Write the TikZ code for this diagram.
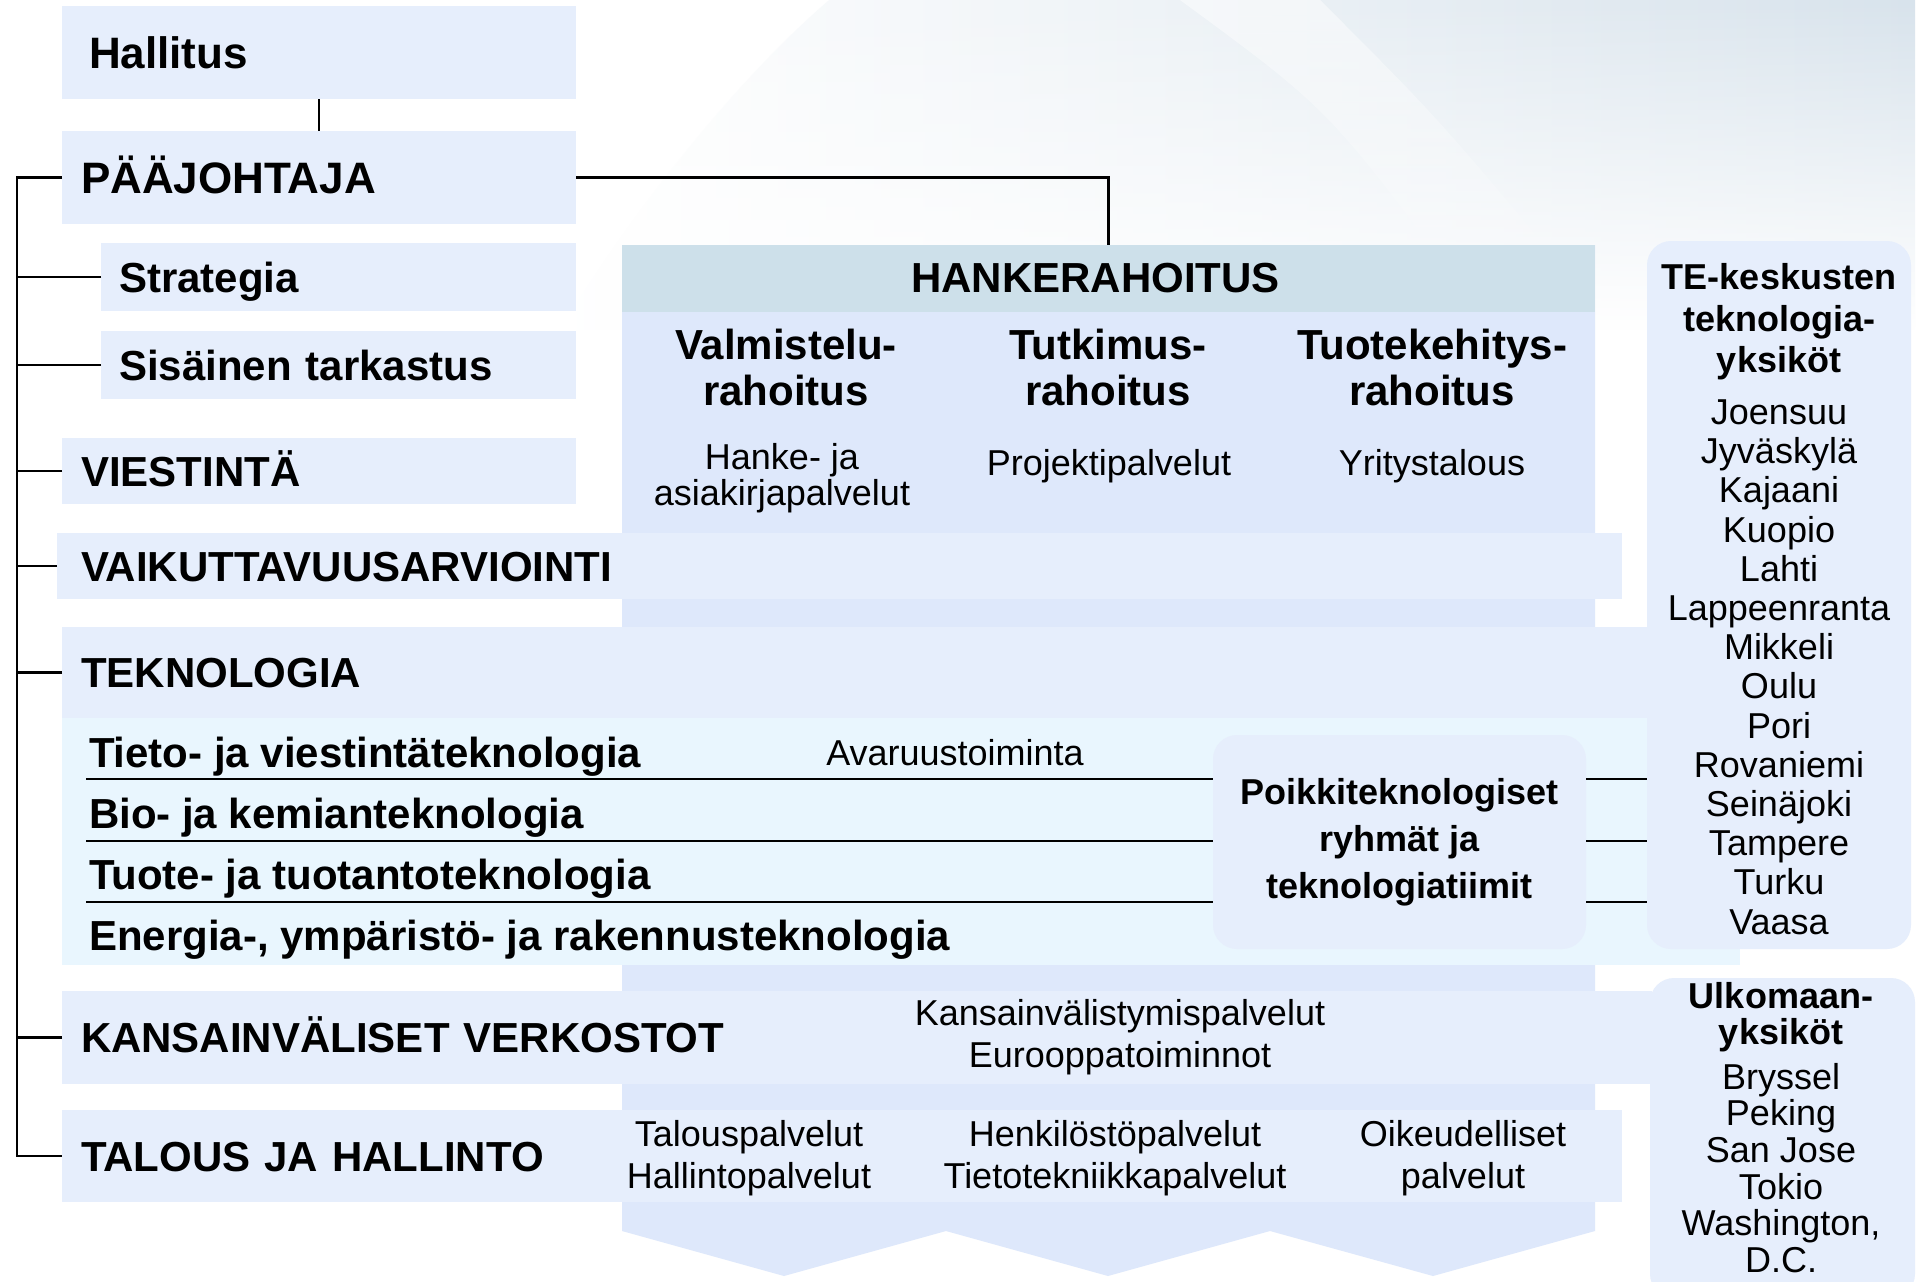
\documentclass[tikz,border=0pt]{standalone}
\usepackage{fontspec}
\setmainfont{Liberation Sans}
\usetikzlibrary{calc,positioning,fadings}

\definecolor{rowblue}{HTML}{E6EEFC}
\definecolor{colblue}{HTML}{DEE8FB}
\definecolor{headblue}{HTML}{CDE0EA}
\definecolor{teknocyan}{HTML}{E9F6FE}
\definecolor{swooshgray}{HTML}{D8E3EC}

\newcommand{\orgtop}{\fontsize{22}{26}\selectfont\bfseries}
\newcommand{\orghead}{\fontsize{21}{23}\selectfont\bfseries}
\newcommand{\orgsub}{\fontsize{18}{20.8}\selectfont}

\begin{document}
\begin{tikzpicture}[inner sep=0pt, outer sep=0pt, x=0.5pt, y=-0.5pt,
    rowbox/.style={fill=rowblue, anchor=north west, align=left, font=\orghead,
      text height=15pt, text depth=0pt, inner xsep=9.5pt},
    unitbox/.style={fill=rowblue, anchor=north west, rounded corners=12pt},
    orgline/.style={line width=1.4pt, black},
    colhead/.style={align=center, font=\orghead},
    coltext/.style={align=center, font=\orgsub}]

    \useasboundingbox[fill=white] (0,0) rectangle (1917,1281);

    % background swoosh
    \shade[left color=white, right color=swooshgray, path fading=south]
      (560,330) .. controls (660,170) and (760,60) .. (830,0) -- (1917,0) -- (1917,330) -- cycle;
    \fill[white, opacity=0.5, path fading=south]
      (1180,0) .. controls (1330,110) .. (1470,300) -- (1590,300) .. controls (1440,120) .. (1320,0) -- cycle;

    % hankerahoitus column
    \fill[colblue] (622,245) -- (1595,245) -- (1595,1231) -- (1433,1276) -- (1270,1231)
      -- (1108,1276) -- (946,1231) -- (784,1276) -- (622,1231) -- cycle;
    \node[anchor=north west, fill=headblue, minimum width=486.5pt, minimum height=33.5pt,
      label={[font=\orghead, xshift=-6.5pt]center:HANKERAHOITUS}] (header) at (622,245) {};

    \node[colhead] (valmistelu) at (786,367) {Valmistelu-\\rahoitus};
    \node[colhead] (tutkimus) at (1108,367) {Tutkimus-\\rahoitus};
    \node[colhead] (tuotekehitys) at (1432,367) {Tuotekehitys-\\rahoitus};
    \node[coltext, font=\fontsize{18}{17.7}\selectfont] (hanke_pal) at (782,478) {Hanke- ja\\asiakirjapalvelut};
    \node[coltext] (projekti_pal) at (1109,466) {Projektipalvelut};
    \node[coltext] (yritys) at (1432,466) {Yritystalous};

    % left side boxes
    \node[rowbox, font=\orgtop, text height=15.75pt, inner xsep=13.5pt, text width=230pt,
      minimum height=46.5pt] (hallitus) at (62,6) {Hallitus};
    \node[rowbox, font=\orgtop, text height=15.75pt, text width=238pt,
      minimum height=46.5pt] (paajohtaja) at (62,131) {PÄÄJOHTAJA};
    \node[rowbox, inner xsep=9pt, text width=219.5pt, minimum height=34pt] (strategia)
      at (101,243) {Strategia};
    \node[rowbox, inner xsep=9pt, text width=219.5pt, minimum height=34pt] (sisainen)
      at (101,331) {Sisäinen tarkastus};
    \node[rowbox, text width=238pt, minimum height=33pt] (viestinta) at (62,438) {VIESTINTÄ};
    \node[rowbox, inner xsep=12pt, text width=758.5pt, minimum height=33pt] (vaikutt)
      at (57,533) {VAIKUTTAVUUSARVIOINTI};

    % teknologia
    \node[rowbox, text width=820pt, minimum height=45.5pt] (teknologia) at (62,627) {TEKNOLOGIA};
    \node[anchor=north west, fill=teknocyan, minimum width=839pt, minimum height=123.5pt]
      (tekno_ala) at (62,718) {};

    \node[anchor=west, font=\orghead, text height=15pt, text depth=0pt] (tieto) at (89,752)
      {Tieto- ja viestintäteknologia};
    \node[anchor=west, font=\orghead, text height=15pt, text depth=0pt] (bio) at (89,813)
      {Bio- ja kemianteknologia};
    \node[anchor=west, font=\orghead, text height=15pt, text depth=0pt] (tuote) at (89,874)
      {Tuote- ja tuotantoteknologia};
    \node[anchor=west, font=\orghead, text height=15pt, text depth=0pt] (energia) at (89,935)
      {Energia-, ympäristö- ja rakennusteknologia};
    \node[coltext] (avaruus) at (955,753) {Avaruustoiminta};

    \node[unitbox, minimum width=186.5pt, minimum height=107pt, align=center,
      font=\fontsize{18}{23.5}\selectfont\bfseries] (poikki) at (1213,735)
      {Poikkiteknologiset\\ryhmät ja\\teknologiatiimit};

    % TE-keskukset
    \node[unitbox, minimum width=132pt, minimum height=354pt] (te) at (1647,241) {};
    \node[align=center, font=\fontsize{18}{20.8}\selectfont\bfseries] (te_head) at (1779,322)
      {TE-keskusten\\teknologia-\\yksiköt};
    \node[align=center, font=\fontsize{18}{19.6}\selectfont] (te_list) at (1779,667)
      {Joensuu\\Jyväskylä\\Kajaani\\Kuopio\\Lahti\\Lappeenranta\\Mikkeli\\Oulu\\Pori\\%
       Rovaniemi\\Seinäjoki\\Tampere\\Turku\\Vaasa};

    % kansainvaliset ja talous
    \node[rowbox, text width=776pt, minimum height=46.5pt] (kansainv) at (62,991)
      {KANSAINVÄLISET VERKOSTOT};
    \node[coltext] (kv_pal) at (1120,1037) {Kansainvälistymispalvelut\\Eurooppatoiminnot};
    \node[rowbox, text width=761pt, minimum height=46pt] (talous) at (62,1110)
      {TALOUS JA HALLINTO};
    \node[coltext] (talous_pal) at (749,1158) {Talouspalvelut\\Hallintopalvelut};
    \node[coltext] (henkilo_pal) at (1115,1158) {Henkilöstöpalvelut\\Tietotekniikkapalvelut};
    \node[coltext] (oikeus_pal) at (1463,1158) {Oikeudelliset\\palvelut};

    \node[unitbox, minimum width=132.5pt, minimum height=160pt] (ulkomaa) at (1650,978) {};
    \node[align=center, font=\fontsize{18}{18.3}\selectfont\bfseries] (ulko_head) at (1781,1017)
      {Ulkomaan-\\yksiköt};
    \node[align=center, font=\fontsize{18}{18.3}\selectfont] (ulko_list) at (1781,1168)
      {Bryssel\\Peking\\San Jose\\Tokio\\Washington,\\D.C.};

    % connectors
    \draw[orgline] (hallitus) -- (paajohtaja);
    \draw[orgline] (paajohtaja.east) -| (header.north);
    \coordinate (spine) at (17,0);
    \draw[orgline] (paajohtaja.west) -- (paajohtaja.west -| spine) |- (talous.west);
    \foreach \n in {strategia,sisainen,viestinta,vaikutt,teknologia,kansainv}
      \draw[orgline] (\n.west) -- (\n.west -| spine);

    \coordinate (tl1) at (86,779);
    \coordinate (tl2) at (86,841);
    \coordinate (tl3) at (86,902);
    \foreach \t in {tl1,tl2,tl3} {
      \draw[orgline] (\t) -- (\t -| poikki.west);
      \draw[orgline] (\t -| poikki.east) -- (\t -| te.west);
    }

\end{tikzpicture}
\end{document}
